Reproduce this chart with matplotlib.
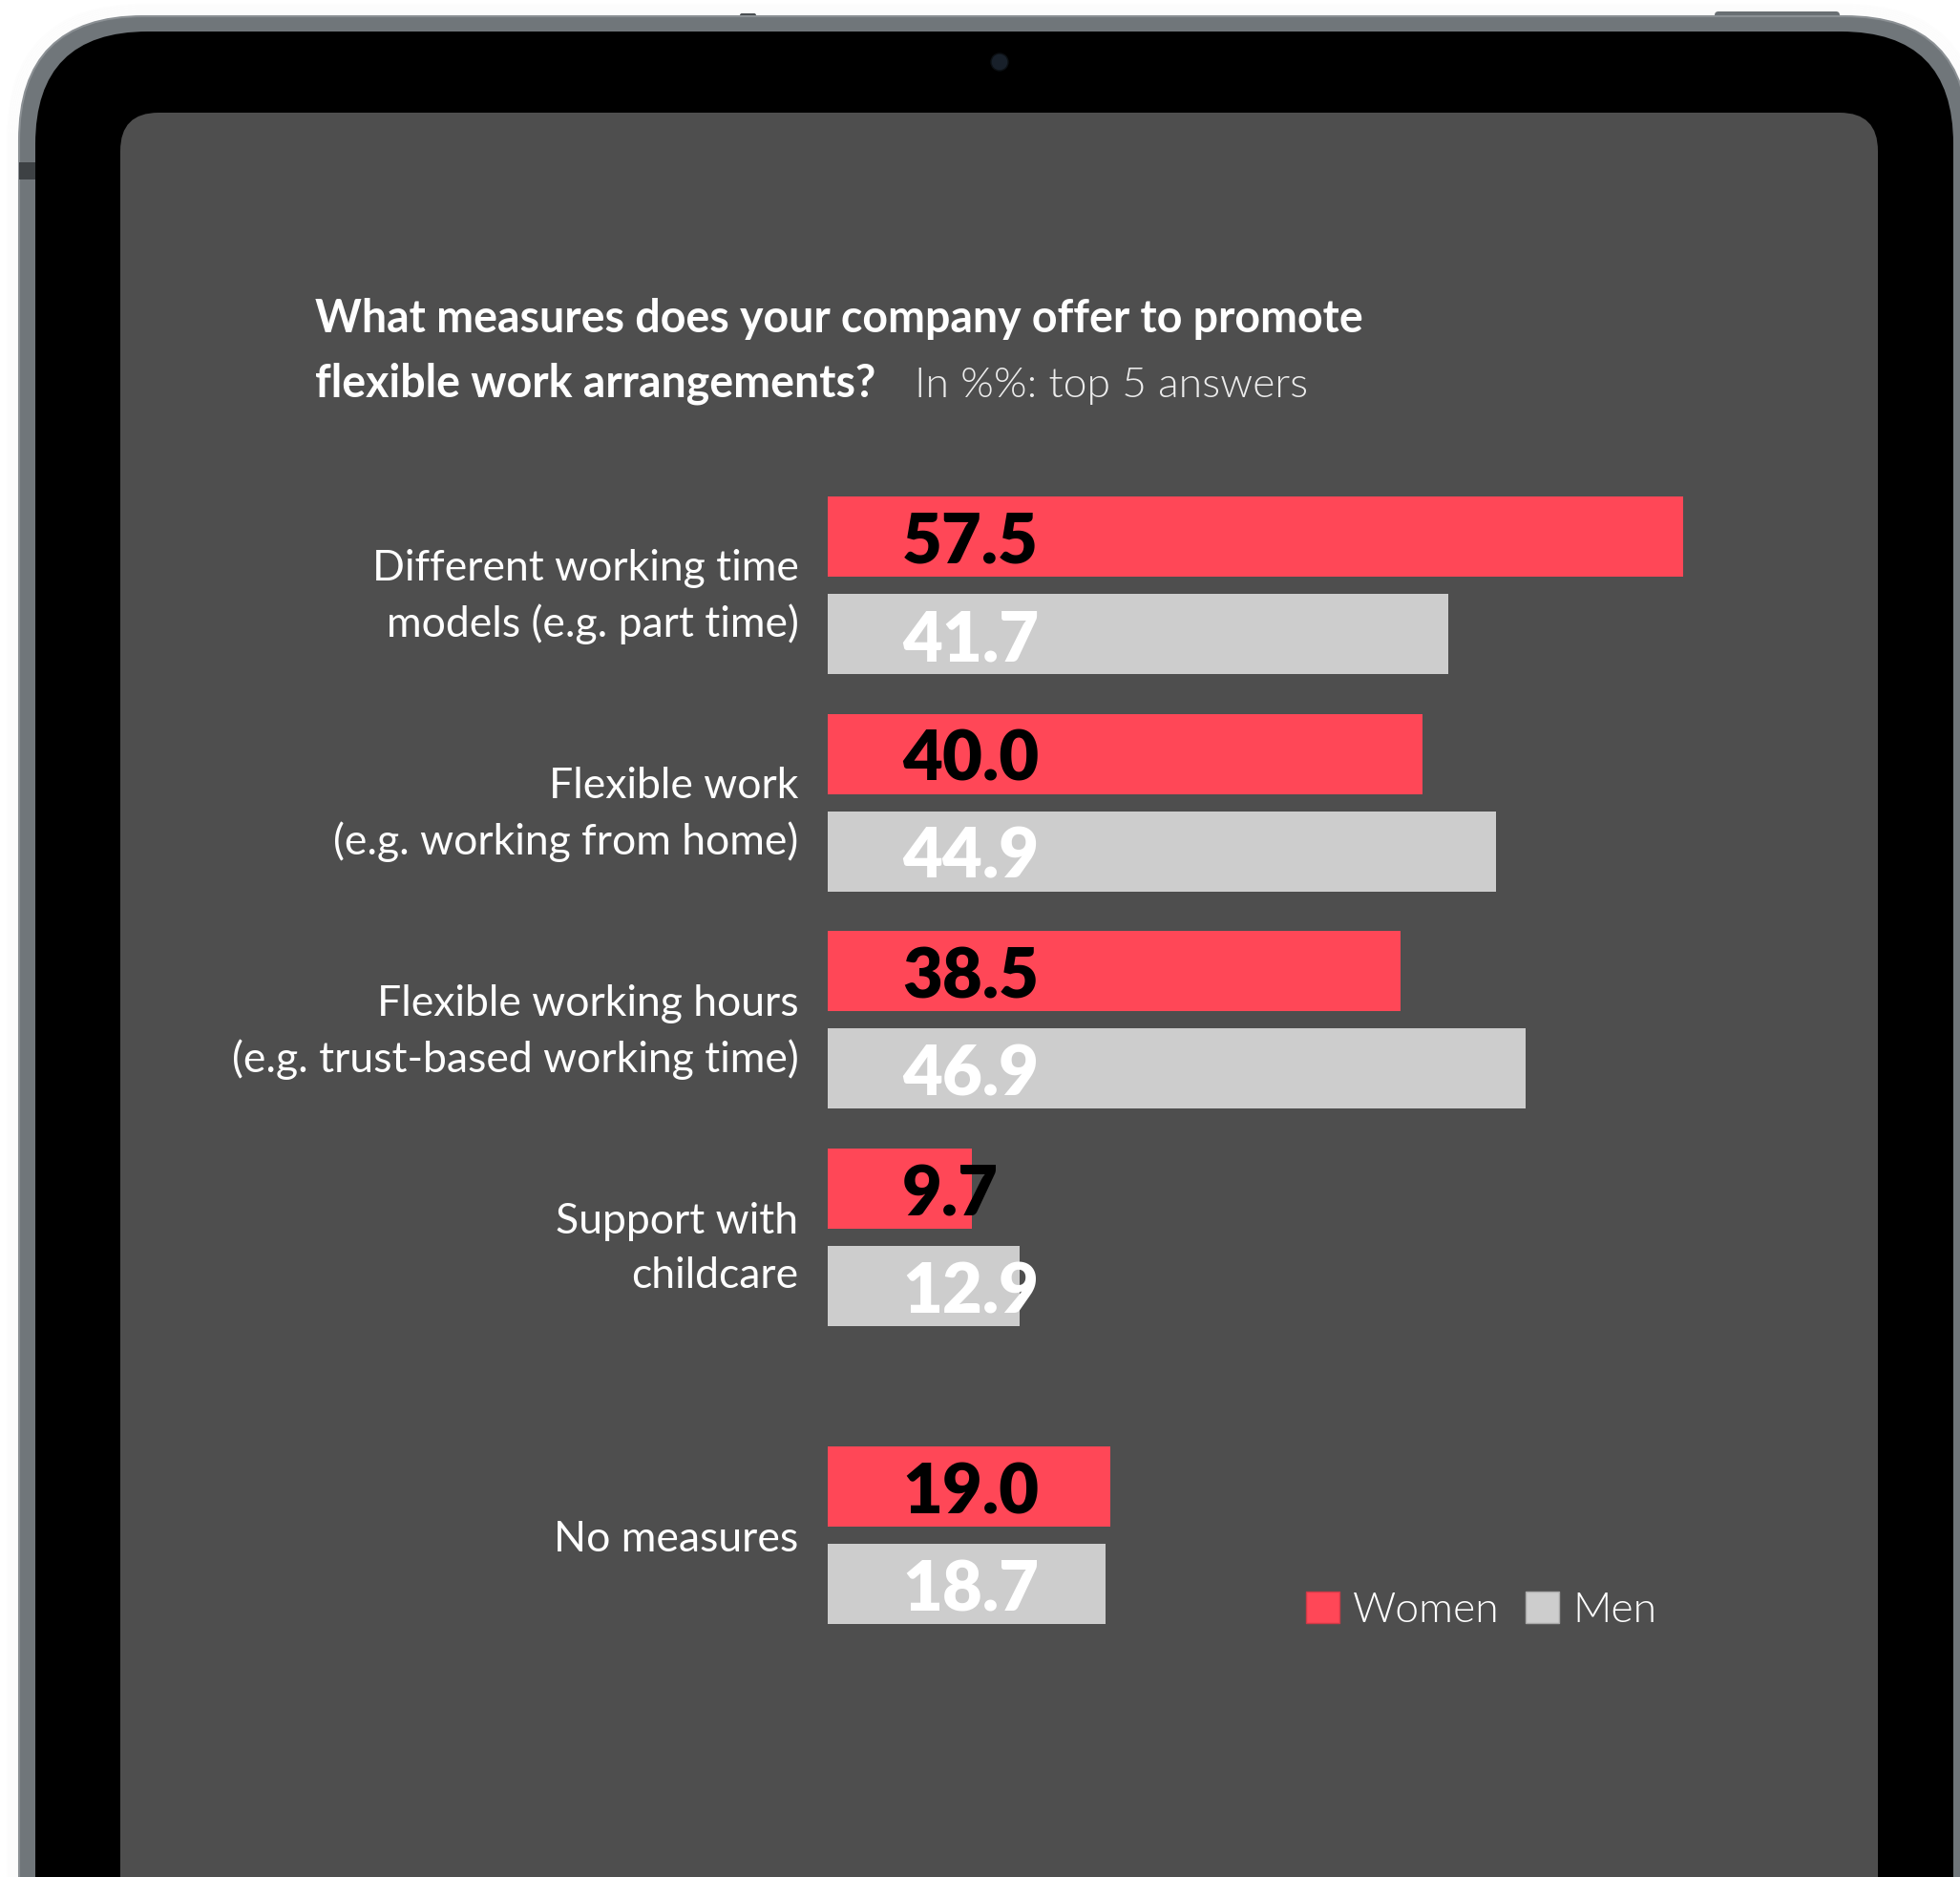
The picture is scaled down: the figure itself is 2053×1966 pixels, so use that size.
import matplotlib.pyplot as plt
from matplotlib.patches import FancyBboxPatch, Circle, Rectangle, Patch

# survey answers, % of respondents
categories = ['Different working time\nmodels (e.g. part time)',
              'Flexible work\n(e.g. working from home)',
              'Flexible working hours\n(e.g. trust-based working time)',
              'Support with\nchildcare',
              'No measures']
women = [57.5, 40.0, 38.5, 9.7, 19.0]
men = [41.7, 44.9, 46.9, 12.9, 18.7]
series_names = ['Women', 'Men']

# layout (pixels of the output image)
W, H = 2053, 1966
pos = [0, 1, 2, 3, 4.37]      # group centres, last group set apart
pitch = 227.7                 # px per group unit
ppu = 15.585                  # px per percent
bar_h = 0.369
off = 0.224
RED, GREY, SCREEN = '#FF4757', '#CDCDCD', '#4E4E4E'

plt.rcParams['font.family'] = ['Lato', 'DejaVu Sans']

fig = plt.figure(figsize=(W / 100, H / 100), dpi=100, facecolor='white')

# ---- tablet frame ----
bg = fig.add_axes([0, 0, 1, 1])
bg.set_xlim(0, W); bg.set_ylim(H, 0); bg.axis('off')

def rrect(x0, y0, x1, y1, r, **kw):
    p = FancyBboxPatch((x0, y0), x1 - x0, y1 - y0,
                       boxstyle='round,pad=0,rounding_size=%g' % r, **kw)
    bg.add_patch(p)
    return p

# soft drop shadow
for i in range(6):
    g = 2 + i * 2
    rrect(20 - g, 17 - g, 2062 + g, H + 300, 130 + g, fc='none',
          ec='black', lw=2, alpha=0.008)
rrect(20, 17, 2062, H + 300, 130, fc='#70767a', ec='#8b9094', lw=1.5)
rrect(1796, 12, 1927, 22, 4, fc='#6b7175', ec='none', zorder=0.5)
rrect(775, 14, 792, 24, 2, fc='#4a4f52', ec='none', zorder=0.5)
bg.add_patch(Rectangle((20, 170), 17, 18, fc='#3d4144', ec='none'))
rrect(37, 33, 2046, H + 300, 118, fc='black', ec='none')
rrect(126, 118, 1967, H + 300, 40, fc=SCREEN, ec='none')
bg.add_patch(Circle((1047, 65), 9, fc='#18202a', ec='#0c1014', lw=1))

# ---- title ----
bg.text(330, 348, 'What measures does your company offer to promote',
        color='white', fontsize=33.5, fontweight='bold', va='baseline')
bg.text(330, 416, 'flexible work arrangements?',
        color='white', fontsize=33.5, fontweight='bold', va='baseline')
bg.text(958, 416, 'In %%: top 5 answers',
        color='#ececec', fontsize=32, fontweight=300, va='baseline')

# ---- bars ----
x0, x1, y0, y1 = 867, 1967, 480, 1760
ax = fig.add_axes([x0 / W, 1 - y1 / H, (x1 - x0) / W, (y1 - y0) / H])
ax.set_facecolor('none')
ax.set_xlim(0, (x1 - x0) / ppu)
ax.set_ylim((y1 - 613) / pitch, (y0 - 613) / pitch)

yw = [p - off for p in pos]
ym = [p + off for p in pos]
ax.barh(yw, women, height=bar_h, color=RED, label=series_names[0])
ax.barh(ym, men, height=bar_h, color=GREY, label=series_names[1])

dy = 28 / pitch
for y, v in zip(yw, women):
    ax.text(5.0, y + dy, f'{v:.1f}', color='black', fontsize=52,
            fontweight='heavy', va='baseline', ha='left')
for y, v in zip(ym, men):
    ax.text(5.0, y + dy, f'{v:.1f}', color='white', fontsize=52,
            fontweight='heavy', va='baseline', ha='left')

ax.set_yticks(pos, labels=categories)
ax.tick_params(axis='y', length=0, pad=22, labelsize=32, labelcolor='white')
for t in ax.get_yticklabels():
    t.set_linespacing(1.48)
ax.set_xticks([])
for s in ax.spines.values():
    s.set_visible(False)

handles = [Patch(fc=RED, ec='#d03a47', lw=1), Patch(fc=GREY, ec='#a9a9a9', lw=1)]
leg = ax.legend(handles, series_names, loc='center left',
                bbox_to_anchor=(1368 / W, 1 - 1687 / H),
                bbox_transform=fig.transFigure, ncol=2, frameon=False,
                fontsize=32, handlelength=0.78, handleheight=0.78,
                handletextpad=0.32, columnspacing=0.62, borderpad=0,
                borderaxespad=0)
for t in leg.get_texts():
    t.set_color('white')
    t.set_fontweight(300)

fig.savefig('out.png', dpi=100, facecolor='white')
